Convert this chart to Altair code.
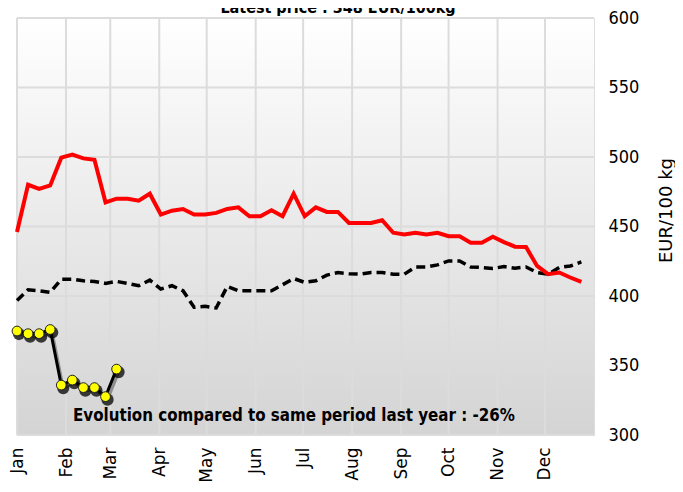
import altair as alt
import pandas as pd

# weekly prices (EUR/100 kg)
last_year = [446, 480, 477, 479.5, 499.5, 501.7, 499, 498, 467.4, 470,
             470, 468.6, 473.6, 458.6, 461.4, 462.6, 458.6, 458.6, 459.8, 462.6,
             463.8, 457.4, 457.4, 461.7, 457.4, 473.6, 457.4, 463.8, 460.5, 460.5,
             452.6, 452.6, 452.6, 454.5, 445.5, 444.3, 445.5, 444.3, 445.5, 443,
             443, 438.3, 438.3, 442.6, 438.8, 435.5, 435.2, 421.6, 415.7, 416.9,
             413.3, 410.2]
average = [396.7, 404.5, 403.8, 402.6, 412.1, 412.1, 410.9, 410.5, 409.1, 410.5,
           409.1, 407.4, 411.4, 405, 407.4, 403.8, 391.9, 392.6, 391.4, 406.9,
           403.8, 403.8, 403.8, 403.8, 408.1, 412.6, 409.8, 410.9, 415, 416.9,
           416, 415.7, 416.9, 416.9, 415.7, 415.7, 420.9, 420.9, 422.4, 425.2,
           425.2, 420.9, 420.5, 419.8, 421.2, 420, 420.9, 416.9, 415.7, 420.5,
           421.6, 424.5]
current = [374.8, 372.9, 372.9, 375.9, 335.9, 339.5, 334.1, 334.1, 327.6, 347.4]
y_grid = [300, 350, 400, 450, 500, 550, 600]
title_text = "Latest price : 348 EUR/100kg"
evo_text = "Evolution compared to same period last year : -26%"

weeks = pd.date_range("2023-01-01", periods=52, freq="7D").strftime("%Y-%m-%dT00:00:00").tolist()
months = pd.date_range("2023-01-01", periods=12, freq="MS").strftime("%Y-%m-%dT00:00:00").tolist()

df_last = pd.DataFrame({"date": weeks, "price": last_year})
df_avg = pd.DataFrame({"date": weeks, "price": average})
df_cur = pd.DataFrame({"date": weeks[:len(current)], "price": current})
df_months = pd.DataFrame({"date": months})
df_ygrid = pd.DataFrame({"price": y_grid})

xscale = alt.Scale(domain=["2023-01-01T00:00:00", "2023-12-31T23:59:00"])
yscale = alt.Scale(domain=[300, 600], nice=False, zero=False)

xaxis = alt.Axis(values=months, format="%b", labelAngle=270, grid=False, domain=False,
                 ticks=False, labelPadding=12, labelFontSize=17, labelColor="#000000",
                 labelFont="DejaVu Sans", title=None)
yaxis = alt.Axis(orient="right", values=y_grid, grid=False, domain=False, ticks=False,
                 labelPadding=14, labelFontSize=18, labelColor="#000000",
                 labelFont="DejaVu Sans Condensed, DejaVu Sans",
                 title="EUR/100 kg", titleAngle=270, titleFontSize=18, titleFontWeight="normal",
                 titleFont="DejaVu Sans", titleColor="#000000",
                 titleX=72, titleY=192, titleAlign="center", titleBaseline="middle")

X = alt.X("date:T", scale=xscale, axis=xaxis)
Y = alt.Y("price:Q", scale=yscale, axis=yaxis)

gradient = {"gradient": "linear", "x1": 0, "y1": 0, "x2": 0, "y2": 1,
            "stops": [{"offset": 0, "color": "#ffffff"}, {"offset": 1, "color": "#d4d4d4"}]}

bg = alt.Chart(pd.DataFrame({"a": [0]})).mark_rect(fill=gradient).encode(
    x=alt.value(0), x2=alt.value("width"), y=alt.value(0), y2=alt.value("height"))

vgrid = alt.Chart(df_months).mark_rule(color="#dcdcdc", strokeWidth=2).encode(
    x=alt.X("date:T", scale=xscale, axis=xaxis))
hgrid = alt.Chart(df_ygrid).mark_rule(color="#dcdcdc", strokeWidth=2).encode(
    y=alt.Y("price:Q", scale=yscale, axis=yaxis))

avg_line = alt.Chart(df_avg).mark_line(color="#000000", strokeWidth=3.5, strokeDash=[9, 5]).encode(x=X, y=Y)
last_line = alt.Chart(df_last).mark_line(color="#ff0000", strokeWidth=4).encode(x=X, y=Y)
cur_shadow_line = alt.Chart(df_cur).mark_line(color="#000000", strokeWidth=3, opacity=0.35,
                                              xOffset=2, yOffset=3).encode(x=X, y=Y)
cur_line = alt.Chart(df_cur).mark_line(color="#000000", strokeWidth=3).encode(x=X, y=Y)
cur_shadow = alt.Chart(df_cur).mark_circle(color="#000000", size=150, opacity=0.75,
                                           xOffset=2, yOffset=3).encode(x=X, y=Y)
cur_pts = alt.Chart(df_cur).mark_point(filled=True, fill="#ffff00", stroke="#222222",
                                       strokeWidth=1, size=95, opacity=1).encode(x=X, y=Y)

title_mark = alt.Chart(pd.DataFrame({"t": [title_text]})).mark_text(
    fontWeight="bold", fontSize=16, font="DejaVu Sans Condensed, DejaVu Sans",
    align="center", baseline="alphabetic", color="#000000").encode(
    x=alt.value(321), y=alt.value(-5), text="t:N")
evo_mark = alt.Chart(pd.DataFrame({"t": [evo_text]})).mark_text(
    fontWeight="bold", fontSize=16.8, font="DejaVu Sans Condensed, DejaVu Sans",
    align="left", baseline="alphabetic", color="#000000").encode(
    x=alt.value(56), y=alt.value(403), text="t:N")

chart = alt.layer(bg, vgrid, hgrid, avg_line, last_line, cur_shadow_line, cur_line,
                  cur_shadow, cur_pts, title_mark, evo_mark).properties(
    width=577, height=417,
    autosize=alt.AutoSizeParams(type="none"),
    padding={"left": 9, "top": 10, "right": 81, "bottom": 49},
).configure_view(strokeWidth=0).configure(background="#ffffff")

chart.save("out.html", embed_options={"renderer": "svg", "actions": False})
